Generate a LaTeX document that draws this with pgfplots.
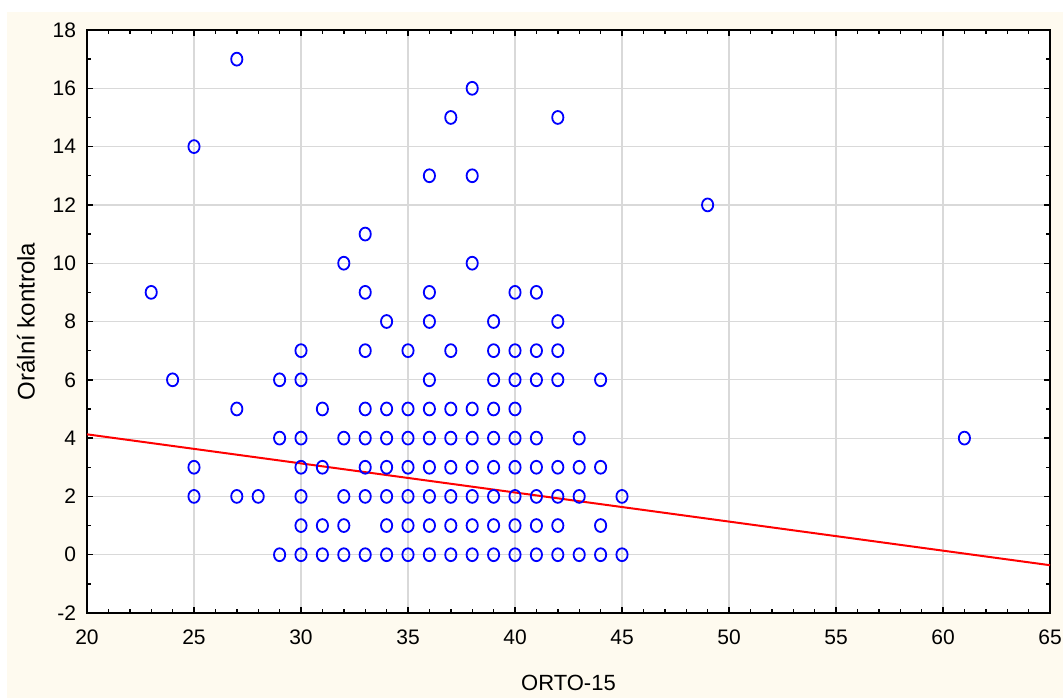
\documentclass[border=0pt]{standalone}
\usepackage{fontspec}
\setmainfont{Liberation Sans}
\usepackage{pgfplots}
\usepackage{pgfplotstable}
\pgfplotsset{compat=1.18}
\definecolor{cream}{RGB}{254,250,239}
\definecolor{ptblue}{RGB}{0,0,255}
\pgfplotstableread{
x y
29 0
30 0
31 0
32 0
33 0
34 0
35 0
36 0
37 0
38 0
39 0
40 0
41 0
42 0
43 0
44 0
45 0
30 1
31 1
32 1
34 1
35 1
36 1
37 1
38 1
39 1
40 1
41 1
42 1
44 1
25 2
27 2
28 2
30 2
32 2
33 2
34 2
35 2
36 2
37 2
38 2
39 2
40 2
41 2
42 2
43 2
45 2
25 3
30 3
31 3
33 3
34 3
35 3
36 3
37 3
38 3
39 3
40 3
41 3
42 3
43 3
44 3
29 4
30 4
32 4
33 4
34 4
35 4
36 4
37 4
38 4
39 4
40 4
41 4
43 4
61 4
27 5
31 5
33 5
34 5
35 5
36 5
37 5
38 5
39 5
40 5
24 6
29 6
30 6
36 6
39 6
40 6
41 6
42 6
44 6
30 7
33 7
35 7
37 7
39 7
40 7
41 7
42 7
34 8
36 8
39 8
42 8
23 9
33 9
36 9
40 9
41 9
32 10
38 10
33 11
49 12
36 13
38 13
25 14
37 15
42 15
38 16
27 17
}\pts
\begin{document}
\begin{tikzpicture}
\fill[white] (-43.5pt,-42.5pt) rectangle (488pt,306.5pt);
\fill[cream] (-40pt,-42.5pt) rectangle (488pt,300.5pt);
\begin{axis}[
  at={(0pt,0pt)}, anchor=south west,
  scale only axis, width=481.5pt, height=291.5pt,
  xmin=20, xmax=65, ymin=-2, ymax=18,
  xtick={20,25,...,65}, ytick={-2,0,...,18},
  minor x tick num=4, minor y tick num=1,
  axis background/.style={fill=white},
  axis line style={black, line width=0.9pt},
  every tick/.style={black, line width=0.7pt},
  major tick length=3pt, minor tick length=1.8pt,
  tick align=inside,
  grid=major,
  major grid style={color=gray!30, line width=0.6pt},
  /pgf/number format/assume math mode=true,
  tick label style={font=\fontsize{10.5}{12}\selectfont},
  yticklabel style={xshift=-2pt},
  xticklabel style={yshift=-5pt},
  xlabel={ORTO-15}, ylabel={Orální kontrola},
  xlabel style={font=\fontsize{11}{13}\selectfont, at={(axis description cs:0.5,0)}, anchor=center, yshift=-35pt},
  ylabel style={font=\fontsize{12}{14}\selectfont, at={(axis description cs:0,0.5)}, anchor=center, yshift=30.5pt},
  clip=true,
]
\addplot[only marks, mark=o, mark size=2.8pt, mark options={ptblue, line width=0.9pt, yscale=1.15}] table[x=x, y=y] {\pts};
\addplot[red, line width=1pt] coordinates {(20,4.13) (65,-0.36)};
\end{axis}
\pgfresetboundingbox
\path[use as bounding box] (-43.5pt,-42.5pt) rectangle (488pt,306.5pt);
\end{tikzpicture}
\end{document}
